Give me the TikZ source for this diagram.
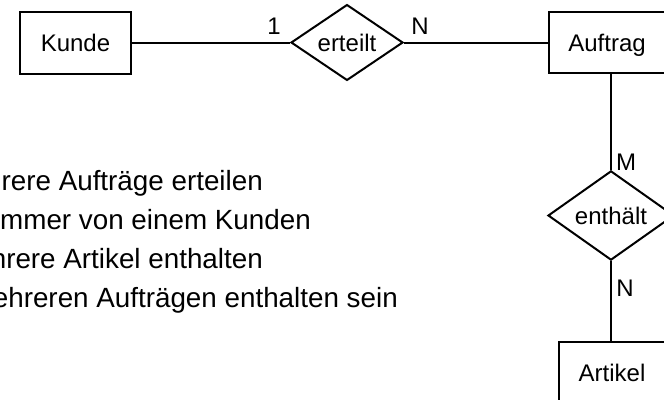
\documentclass[tikz,border=0pt]{standalone}
\usepackage{fontspec}
\setmainfont{Liberation Sans}
\usetikzlibrary{shapes.geometric}
\begin{document}
\begin{tikzpicture}[x=1pt,y=-1pt,
  entity/.style={draw, line width=2pt, inner sep=0pt,
    font=\fontsize{24}{28}\selectfont, text height=17.2pt, text depth=0pt},
  relation/.style={diamond, draw, line width=2pt, inner sep=0pt,
    font=\fontsize{24}{28}\selectfont, text height=17.2pt, text depth=0pt},
  card/.style={font=\fontsize{24}{28}\selectfont, inner sep=0pt,
    text height=17.2pt, text depth=0pt},
  note/.style={font=\fontsize{27.8}{39}\selectfont, anchor=base east, inner sep=0pt},
  link/.style={line width=2pt}]
\useasboundingbox (0,0) rectangle (664,399);
\fill[white] (0,0) rectangle (664,399);

% entities and relationships
\node[entity, minimum width=111pt, minimum height=62pt] (kunde) at (75.5,43) {Kunde};
\node[relation, minimum width=112pt, minimum height=69pt] (erteilt) at (347,42.5) {erteilt};
\node[entity, minimum width=116pt, minimum height=61pt] (auftrag) at (607,42.5) {Auftrag};
\node[relation, minimum width=126pt, minimum height=75pt] (enthaelt) at (611,215.5) {enthält};
\node[entity, minimum width=106pt, minimum height=62pt] (artikel) at (612,373) {Artikel};

% connectors
\draw[link] (kunde.east) -- (kunde.east -| erteilt.west);
\draw[link] (erteilt.east) -- (erteilt.east -| auftrag.west);
\draw[link] (enthaelt.north) -- (enthaelt.north |- auftrag.south);
\draw[link] (enthaelt.south) -- (enthaelt.south |- artikel.north);

% cardinalities
\node[card] (c1) at (274,26) {1};
\node[card] (cn1) at (420,25.5) {N};
\node[card] (cm) at (626,162) {M};
\node[card] (cn2) at (625,288) {N};

% explanatory sentences
\node[note] (s1) at (263,190) {mehrere Aufträge erteilen};
\node[note] (s2) at (311,229) {immer von einem Kunden};
\node[note] (s3) at (263,268) {mehrere Artikel enthalten};
\node[note] (s4) at (398,307) {mehreren Aufträgen enthalten sein};
\end{tikzpicture}
\end{document}
